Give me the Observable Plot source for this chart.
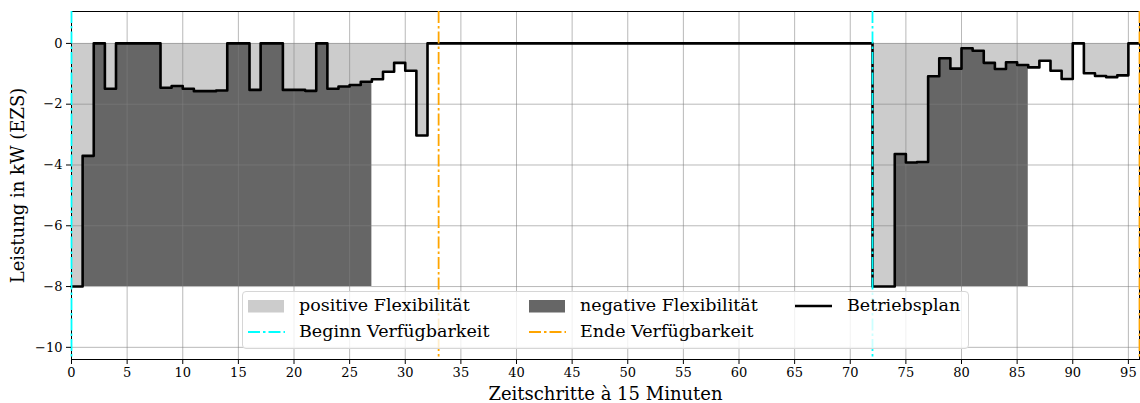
<!DOCTYPE html>
<html><head><meta charset="utf-8">
<script src="https://cdn.jsdelivr.net/npm/d3@7"></script>
<script src="https://cdn.jsdelivr.net/npm/@observablehq/plot@0.6"></script>
<style>
body{margin:0;background:#fff;}
#wrap{position:relative;width:1140px;height:403px;font-family:"DejaVu Serif",serif;}
.legend{position:absolute;left:242px;top:291px;width:727px;height:58px;box-sizing:border-box;border:1px solid #d6d6d6;border-radius:4px;background:rgba(255,255,255,0.8);}
.item{position:absolute;font-size:17.5px;line-height:20px;white-space:nowrap;color:#000;}
.sw{position:absolute;}
</style></head><body><div id="wrap"></div>
<script>
// Betriebsplan (kW) for time steps 0..95
const plan = [
  -8, -3.7, 0, -1.49, 0, 0, 0, 0, -1.46, -1.40,
  -1.49, -1.57, -1.57, -1.55, 0, 0, -1.53, 0, 0, -1.53,
  -1.53, -1.56, 0, -1.49, -1.42, -1.37, -1.26, -1.18, -0.93, -0.64,
  -0.90, -3.03, 0, 0, 0, 0, 0, 0, 0, 0,
  0, 0, 0, 0, 0, 0, 0, 0, 0, 0,
  0, 0, 0, 0, 0, 0, 0, 0, 0, 0,
  0, 0, 0, 0, 0, 0, 0, 0, 0, 0,
  0, 0, -8, -8, -3.64, -3.92, -3.90, -1.08, -0.49, -0.83,
  -0.16, -0.24, -0.64, -0.84, -0.62, -0.71, -0.79, -0.57, -0.90, -1.17,
  0, -0.98, -1.07, -1.11, -1.05, 0
];
const beginnVerf = [0, 72];
const endeVerf = [33, 96];
const negFlexWindows = [[0, 27], [72, 86]];
const negLimit = -8;
const xTicks = [0,5,10,15,20,25,30,35,40,45,50,55,60,65,70,75,80,85,90,95];
const yTicks = [0,-2,-4,-6,-8,-10];

const rows = plan.map((v, t) => ({t, v}));
rows.push({t: plan.length, v: plan[plan.length - 1]});
const inNeg = t => negFlexWindows.some(([a, b]) => t >= a && t <= b);
const negRows = rows.map(d => ({t: d.t, v: inNeg(d.t) ? d.v : NaN}));

const font = "DejaVu Serif";
const dash = "12,3,2.5,3";

const chart = Plot.plot({
  width: 1140, height: 403,
  marginLeft: 71, marginRight: 1, marginTop: 11, marginBottom: 44,
  style: {fontFamily: font, background: "white", color: "black"},
  x: {domain: [0, 96]},
  y: {domain: [-10.4, 1.05]},
  marks: [
    Plot.areaY(rows, {x: "t", y1: 0, y2: "v", curve: "step-after", fill: "#cccccc"}),
    Plot.areaY(negRows, {x: "t", y1: negLimit, y2: "v", curve: "step-after", fill: "#666666"}),
    Plot.gridX(xTicks, {stroke: "#808080", strokeOpacity: 0.55, strokeWidth: 1}),
    Plot.gridY(yTicks, {stroke: "#808080", strokeOpacity: 0.55, strokeWidth: 1}),
    Plot.line(rows, {x: "t", y: "v", curve: "step-after", stroke: "black", strokeWidth: 2.6}),
    Plot.frame({stroke: "black", strokeWidth: 1}),
    Plot.ruleX(beginnVerf, {stroke: "#00ffff", strokeWidth: 1.8, strokeDasharray: dash}),
    Plot.ruleX(endeVerf, {stroke: "#ffa500", strokeWidth: 1.8, strokeDasharray: dash}),
    Plot.axisX(xTicks, {tickSize: 5, tickPadding: 3, fontSize: 13, label: "Zeitschritte à 15 Minuten", labelAnchor: "center", labelArrow: "none", labelOffset: 40}),
    Plot.axisY(yTicks, {tickSize: 5, tickPadding: 4, fontSize: 13, label: "Leistung in kW (EZS)", labelAnchor: "center", labelArrow: "none", labelOffset: 60})
  ]
});
// enlarge axis labels
chart.querySelectorAll("g[aria-label='x-axis label'] text, g[aria-label='y-axis label'] text").forEach(t => {
  t.setAttribute("font-size", "18px"); t.style.fontSize = "18px";
});
const wrap = document.getElementById("wrap");
wrap.appendChild(chart);

// Legend
const legendItems = [
  {label: "positive Flexibilität", kind: "patch", color: "#cccccc", sx: 248, tx: 299, row: 0},
  {label: "negative Flexibilität", kind: "patch", color: "#666666", sx: 529, tx: 580, row: 0},
  {label: "Betriebsplan", kind: "line", color: "black", sx: 795, tx: 847, row: 0},
  {label: "Beginn Verfügbarkeit", kind: "dash", color: "#00ffff", sx: 248, tx: 299, row: 1},
  {label: "Ende Verfügbarkeit", kind: "dash", color: "#ffa500", sx: 529, tx: 580, row: 1}
];
const lg = document.createElement("div");
lg.className = "legend";
wrap.appendChild(lg);
const rowY = [306, 332];
legendItems.forEach(it => {
  const cy = rowY[it.row];
  const sw = document.createElementNS("http://www.w3.org/2000/svg", "svg");
  sw.setAttribute("width", 37); sw.setAttribute("height", 14);
  sw.setAttribute("class", "sw");
  sw.style.left = (it.sx) + "px"; sw.style.top = (cy - 7) + "px";
  if (it.kind === "patch") {
    sw.innerHTML = `<rect x="0" y="1" width="36" height="12.5" fill="${it.color}"/>`;
  } else if (it.kind === "line") {
    sw.innerHTML = `<line x1="0" x2="37" y1="7" y2="7" stroke="${it.color}" stroke-width="2.6"/>`;
  } else {
    sw.innerHTML = `<line x1="0" x2="37" y1="7" y2="7" stroke="${it.color}" stroke-width="1.8" stroke-dasharray="${dash}"/>`;
  }
  wrap.appendChild(sw);
  const tx = document.createElement("div");
  tx.className = "item";
  tx.textContent = it.label;
  tx.style.left = it.tx + "px";
  tx.style.top = (cy - 11) + "px";
  wrap.appendChild(tx);
});
</script></body></html>
